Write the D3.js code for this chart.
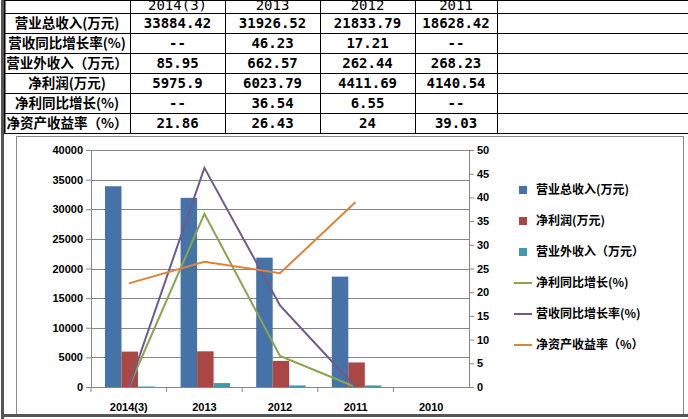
<!DOCTYPE html>
<html><head><meta charset="utf-8">
<script src="https://d3js.org/d3.v7.min.js"></script>
<style>body{margin:0;background:#fff}svg{display:block;font-family:"Noto Sans CJK SC",sans-serif}</style>
</head><body><svg id="c" width="688" height="419"></svg>
<script>
// table data
var years = ["2014(3)", "2013", "2012", "2011"];
var rowLabels = ["营业总收入(万元)", "营收同比增长率(%)", "营业外收入（万元）", "净利润(万元)", "净利同比增长(%)", "净资产收益率（%）"];
var rowValues = [
	["33884.42", "31926.52", "21833.79", "18628.42"],
	["--", "46.23", "17.21", "--"],
	["85.95", "662.57", "262.44", "268.23"],
	["5975.9", "6023.79", "4411.69", "4140.54"],
	["--", "36.54", "6.55", "--"],
	["21.86", "26.43", "24", "39.03"]
];

// chart data
var categories = ["2014(3)", "2013", "2012", "2011", "2010"];
var revenue = [33884.42, 31926.52, 21833.79, 18628.42];
var netProfit = [5975.9, 6023.79, 4411.69, 4140.54];
var otherIncome = [85.95, 662.57, 262.44, 268.23];
var profitGrowth = [0, 36.54, 6.55, 0];
var revenueGrowth = [0, 46.23, 17.21, 0];
var roe = [21.86, 26.43, 24, 39.03];

var svg = d3.select("#c");

// ---- table ----
var colX = [4, 130, 225, 320, 415, 497, 688],
	rowY = [0, 13, 33, 53, 73, 93, 113, 133];
var tbl = svg.append("g");
colX.forEach(function(xx, i) {
	tbl.append("line").attr("x1", xx + 0.5).attr("x2", xx + 0.5).attr("y1", 0).attr("y2", 133)
		.attr("stroke", "#000").attr("stroke-width", i == 0 ? 2 : 1);
});
rowY.forEach(function(yy) {
	tbl.append("line").attr("x1", 4).attr("x2", 688).attr("y1", yy + 0.5).attr("y2", yy + 0.5)
		.attr("stroke", "#000").attr("stroke-width", 1);
});
var numFont = "DejaVu Sans Mono";
years.forEach(function(yr, j) {
	tbl.append("text").attr("x", (colX[j + 1] + colX[j + 2]) / 2).attr("y", 10)
		.attr("text-anchor", "middle").attr("font-family", numFont).attr("font-size", 14).text(yr);
});
rowLabels.forEach(function(lab, i) {
	var cy = rowY[i + 1] + 15;
	tbl.append("text").attr("x", 67).attr("y", cy).attr("text-anchor", "middle")
		.attr("font-size", 13.5).attr("font-weight", "bold").text(lab);
	rowValues[i].forEach(function(v, j) {
		tbl.append("text").attr("x", (colX[j + 1] + colX[j + 2]) / 2).attr("y", cy)
			.attr("text-anchor", "middle").attr("font-family", numFont).attr("font-size", 14)
			.attr("font-weight", "bold").text(v);
	});
});

// ---- chart frame ----
svg.append("rect").attr("x", 16.5).attr("y", 136.5).attr("width", 667).attr("height", 279)
	.attr("fill", "#fff").attr("stroke", "#888");
svg.append("rect").attr("x", 1).attr("y", 0).attr("width", 3).attr("height", 419).attr("fill", "#555");
svg.append("rect").attr("x", 1).attr("y", 414).attr("width", 687).attr("height", 3).attr("fill", "#555");

var plotL = 91, plotR = 469, plotT = 150, plotB = 387;
var x = d3.scaleBand().domain(categories).range([plotL, plotR]);
var yL = d3.scaleLinear().domain([0, 40000]).range([plotB, plotT]);
var yR = d3.scaleLinear().domain([0, 50]).range([plotB, plotT]);

var g = svg.append("g");
yL.ticks(8).forEach(function(t) {
	g.append("line").attr("x1", plotL).attr("x2", plotR).attr("y1", Math.round(yL(t)) + 0.5).attr("y2", Math.round(yL(t)) + 0.5)
		.attr("stroke", "#878787");
});
g.append("line").attr("x1", plotL + 0.5).attr("x2", plotL + 0.5).attr("y1", plotT).attr("y2", plotB).attr("stroke", "#878787");
g.append("line").attr("x1", plotR + 0.5).attr("x2", plotR + 0.5).attr("y1", plotT).attr("y2", plotB).attr("stroke", "#878787");

var axL = g.append("g").attr("transform", "translate(" + plotL + ",0)")
	.call(d3.axisLeft(yL).ticks(8).tickSize(5).tickFormat(d3.format("d")));
var axR = g.append("g").attr("transform", "translate(" + plotR + ",0)")
	.call(d3.axisRight(yR).ticks(10).tickSize(5));
var axB = g.append("g").attr("transform", "translate(0," + plotB + ")")
	.call(d3.axisBottom(x).tickSize(5).tickFormat(""));
[axL, axR, axB].forEach(function(a) {
	a.select(".domain").remove();
	a.selectAll("line").attr("stroke", "#878787");
	a.selectAll("text").attr("font-family", "Liberation Sans").attr("font-weight", "bold").attr("font-size", 11).attr("fill", "#000");
});
axB.selectAll(".tick line").attr("transform", "translate(" + (-x.bandwidth() / 2) + ",0)");
categories.forEach(function(c) {
	g.append("text").attr("x", x(c) + x.bandwidth() / 2).attr("y", 411).attr("text-anchor", "middle")
		.attr("font-family", "Liberation Sans").attr("font-weight", "bold").attr("font-size", 11).text(c);
});

// bars
var barSeries = [
	{ name: "营业总收入(万元)", data: revenue, color: "#4572a7" },
	{ name: "净利润(万元)", data: netProfit, color: "#aa4643" },
	{ name: "营业外收入（万元）", data: otherIncome, color: "#4198af" }
];
var bw = 16.5, off = 14;
barSeries.forEach(function(s, k) {
	g.selectAll(null).data(s.data).enter().append("rect")
		.attr("x", function(d, i) { return x(categories[i]) + off + k * bw; })
		.attr("y", function(d) { return yL(d); })
		.attr("width", bw)
		.attr("height", function(d) { return plotB - yL(d); })
		.attr("fill", s.color);
});

// lines
var lineSeries = [
	{ name: "净利同比增长(%)", data: profitGrowth, color: "#89a54e" },
	{ name: "营收同比增长率(%)", data: revenueGrowth, color: "#71588f" },
	{ name: "净资产收益率（%）", data: roe, color: "#db843d" }
];
var line = d3.line()
	.x(function(d, i) { return x(categories[i]) + x.bandwidth() / 2; })
	.y(function(d) { return yR(d); });
lineSeries.forEach(function(s) {
	g.append("path").datum(s.data).attr("d", line).attr("fill", "none")
		.attr("stroke", s.color).attr("stroke-width", 2);
});

// legend
var legend = barSeries.concat(lineSeries);
legend.forEach(function(s, i) {
	var ly = 190 + i * 31;
	if (i < 3) {
		g.append("rect").attr("x", 519).attr("y", ly - 4).attr("width", 8).attr("height", 8).attr("fill", s.color);
	} else {
		g.append("line").attr("x1", 514).attr("x2", 532).attr("y1", ly).attr("y2", ly).attr("stroke", s.color).attr("stroke-width", 2);
	}
	g.append("text").attr("x", 536).attr("y", ly + 4).attr("font-size", 12).attr("font-weight", "bold").text(s.name);
});
</script></body></html>
